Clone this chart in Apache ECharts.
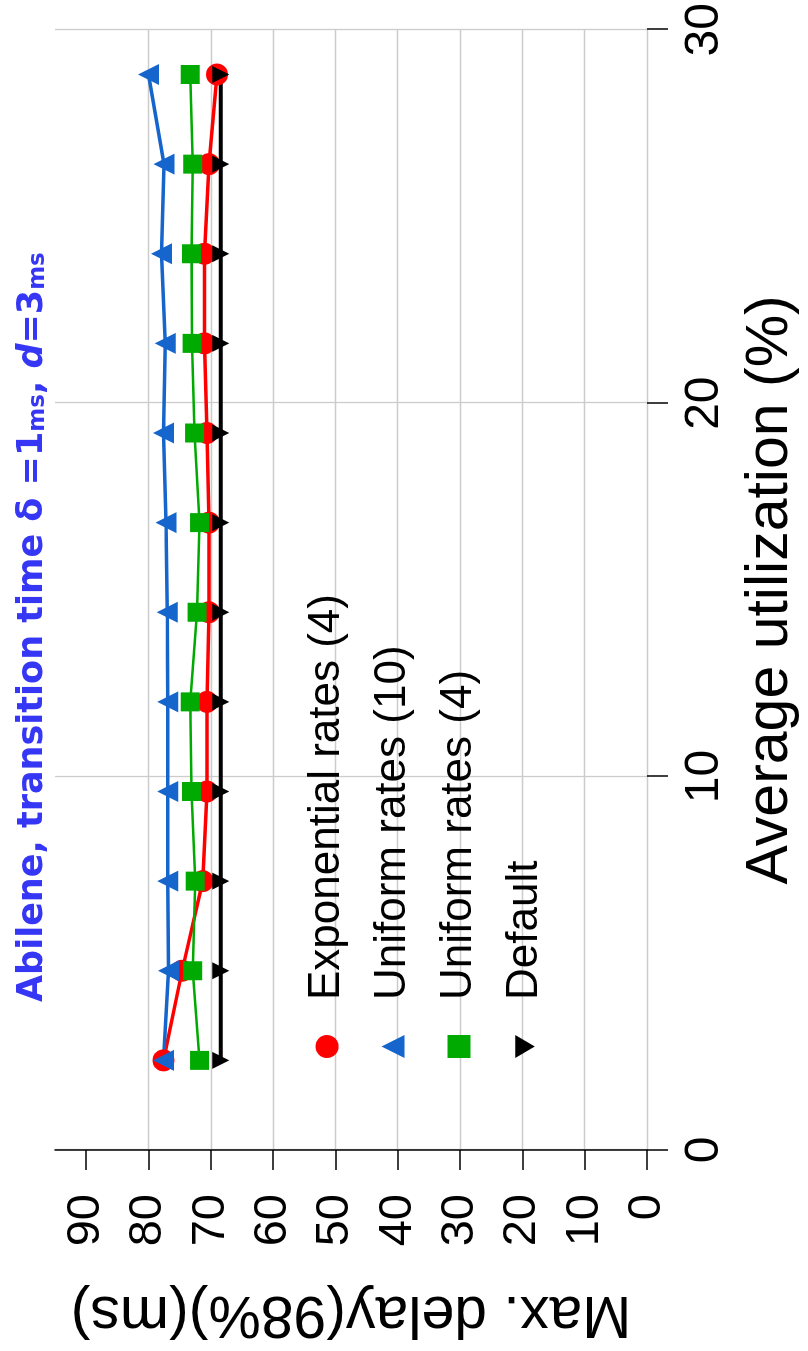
<!DOCTYPE html>
<html>
<head>
<meta charset="utf-8">
<script src="https://cdn.jsdelivr.net/npm/echarts@6/dist/echarts.min.js"></script>
<style>
  html, body { margin: 0; padding: 0; background: #ffffff; overflow: hidden; width: 808px; height: 1351px; }
  /* the figure is laid out landscape and turned a quarter turn counter-clockwise */
  #chart {
    position: absolute; left: 0; top: 0;
    width: 1351px; height: 808px;
    transform-origin: 0 0;
    transform: translate(0, 1351px) rotate(-90deg);
  }
</style>
</head>
<body>
<div id="chart"></div>
<script>
// Average link utilization (%) at each measurement point
const utilization = [2.4, 4.8, 7.2, 9.6, 12, 14.4, 16.8, 19.2, 21.6, 24, 26.4, 28.8];
// Max. delay, 98th percentile (ms)
const exponentialRates4 = [77.6, 74.6, 71.3, 70.6, 70.6, 70.3, 70.3, 70.6, 71.0, 71.0, 70.3, 69.0];
const uniformRates10    = [77.6, 76.8, 76.9, 76.9, 76.9, 77.0, 77.2, 77.6, 77.3, 77.9, 77.5, 80.0];
const uniformRates4     = [71.8, 72.9, 72.5, 73.1, 73.3, 72.2, 71.8, 72.6, 73.0, 73.1, 72.9, 73.3];
const defaultRates      = [68.4, 68.4, 68.4, 68.4, 68.4, 68.4, 68.4, 68.4, 68.4, 68.4, 68.4, 68.4];

const seriesNames = ['Exponential rates (4)', 'Uniform rates (10)', 'Uniform rates (4)', 'Default'];
const delayTicks = [0, 10, 20, 30, 40, 50, 60, 70, 80, 90];
const utilTicks = [0, 10, 20, 30];

const pair = (xs, ys) => xs.map((x, i) => [x, ys[i]]);
const FONT = "'Liberation Sans', Arial, sans-serif";
const TITLE_FONT = "'DejaVu Sans', Verdana, sans-serif";
const TITLE_BLUE = '#3636F5';

const chart = echarts.init(document.getElementById('chart'), null, { renderer: 'canvas' });

chart.setOption({
  animation: false,
  backgroundColor: '#ffffff',
  title: {
    left: 344,
    top: 10,
    text: 'Abilene, transition time δ =1{s|ms}, {i|d}=3{s|ms}',
    textStyle: {
      fontFamily: TITLE_FONT,
      fontWeight: 'bold',
      fontSize: 35,
      color: TITLE_BLUE,
      rich: {
        s: { fontFamily: TITLE_FONT, fontWeight: 'bold', fontSize: 23, color: TITLE_BLUE, verticalAlign: 'bottom' },
        i: { fontFamily: TITLE_FONT, fontWeight: 'bold', fontStyle: 'italic', fontSize: 35, color: TITLE_BLUE }
      }
    }
  },
  legend: {
    orient: 'vertical',
    left: 288,
    top: 297,
    itemWidth: 23,
    itemHeight: 23,
    itemGap: 16,
    symbolRotate: 0,
    selectedMode: false,
    textStyle: { fontFamily: FONT, fontSize: 44, color: '#000', lineHeight: 50, padding: [0, 0, 0, 30] },
    data: [
      { name: seriesNames[0], icon: 'circle' },
      { name: seriesNames[1], icon: 'triangle' },
      { name: seriesNames[2], icon: 'rect' },
      { name: seriesNames[3], icon: 'path://M0,0L20,0L10,17Z' }
    ]
  },
  grid: { left: 198, top: 55, width: 1124, height: 592, containLabel: false },
  xAxis: {
    type: 'value',
    min: 0, max: 30, interval: 10,
    name: 'Average utilization (%)',
    nameLocation: 'middle',
    nameGap: 94,
    nameTextStyle: { fontFamily: FONT, fontSize: 59, color: '#000' },
    axisLine: { show: false },
    axisTick: { show: true, length: 21, lineStyle: { color: '#000', width: 1.5 } },
    axisLabel: { fontFamily: FONT, fontSize: 48, color: '#000', margin: 34,
                 customValues: utilTicks },
    splitLine: { show: true, lineStyle: { color: '#CCCCCC', width: 1.3 } }
  },
  yAxis: {
    type: 'value',
    min: 0, max: 95, interval: 10,
    name: 'Max. delay(98%)(ms)',
    nameLocation: 'middle',
    nameRotate: 90,
    nameGap: 134,
    nameTextStyle: { fontFamily: FONT, fontSize: 59, color: '#000' },
    axisLine: { show: true, onZero: false, lineStyle: { color: '#000', width: 1.5 } },
    axisTick: { show: true, length: 20, lineStyle: { color: '#000', width: 1.5 },
                customValues: delayTicks },
    axisLabel: { fontFamily: FONT, fontSize: 47, color: '#000', margin: 44,
                 customValues: delayTicks },
    splitLine: { show: true, showMaxLine: false, lineStyle: { color: '#CCCCCC', width: 1.3 } }
  },
  series: [
    {
      name: seriesNames[0], type: 'line',
      data: pair(utilization, exponentialRates4),
      symbol: 'circle', symbolSize: 22,
      lineStyle: { color: '#FF0000', width: 3.5 },
      itemStyle: { color: '#FF0000' }
    },
    {
      name: seriesNames[1], type: 'line',
      data: pair(utilization, uniformRates10),
      symbol: 'triangle', symbolSize: 21,
      lineStyle: { color: '#1565CC', width: 3.5 },
      itemStyle: { color: '#1565CC' }
    },
    {
      name: seriesNames[2], type: 'line',
      data: pair(utilization, uniformRates4),
      symbol: 'rect', symbolSize: 19,
      lineStyle: { color: '#00AA00', width: 2.5 },
      itemStyle: { color: '#00AA00' }
    },
    {
      name: seriesNames[3], type: 'line',
      data: pair(utilization, defaultRates),
      symbol: 'triangle', symbolSize: 17, symbolRotate: 180,
      lineStyle: { color: '#000000', width: 4 },
      itemStyle: { color: '#000000' }
    }
  ]
});
</script>
</body>
</html>
